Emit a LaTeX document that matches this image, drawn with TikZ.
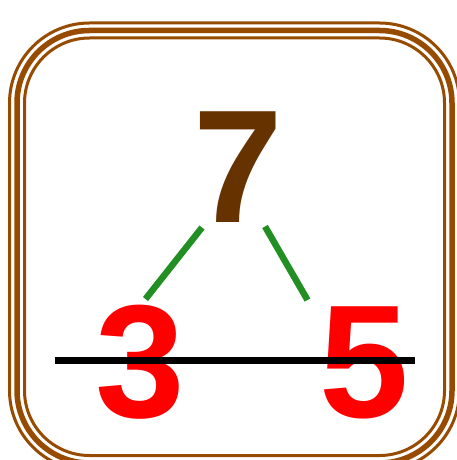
\documentclass[tikz,border=0pt]{standalone}
\usepackage{fontspec}
\setmainfont{Liberation Sans}
\definecolor{frame}{RGB}{150,75,0}
\definecolor{sevenbrown}{RGB}{102,51,0}
\definecolor{stick}{RGB}{34,143,34}
\definecolor{digitred}{RGB}{255,0,0}
\begin{document}
\begin{tikzpicture}[x=1pt,y=-1pt,
  framepart/.style={draw=frame},
  bignum/.style={inner sep=0pt,anchor=base,font=\fontsize{161}{163}\selectfont\bfseries},
  stickline/.style={draw=stick,line width=6.5pt},
  barline/.style={draw=black,line width=7pt}]
\useasboundingbox (0,0) rectangle (456,460);
% triple frame
\draw[framepart,line width=3pt,rounded corners=80pt] (9.5,23) rectangle (459.5,470.5);
\draw[framepart,line width=5.5pt,rounded corners=72.5pt] (17,30.5) rectangle (452,463);
\draw[framepart,line width=3pt,rounded corners=65pt] (24.5,38) rectangle (444.5,455.5);
% numbers
\node[bignum,text=sevenbrown] (seven) at (238,222) {7};
\node[bignum,text=digitred] (three) at (140,417) {3};
\node[bignum,text=digitred] (five) at (364,417) {5};
% sticks
\coordinate (s1a) at (202,227.5);
\coordinate (s1b) at (145.5,299);
\coordinate (s2a) at (265,226.5);
\coordinate (s2b) at (307.5,300);
\draw[stickline] (s1a) -- (s1b);
\draw[stickline] (s2a) -- (s2b);
% bar
\coordinate (barL) at (55,360.5);
\coordinate (barR) at (415,360.5);
\draw[barline] (barL) -- (barR);
\end{tikzpicture}
\end{document}
